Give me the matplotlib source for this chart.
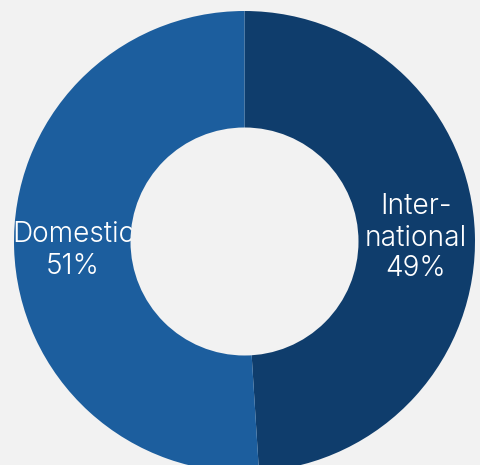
import matplotlib
matplotlib.use("Agg")
import matplotlib.pyplot as plt
from matplotlib.patches import Circle

categories = ["International", "Domestic"]
values = [49, 51]
label_lines = [["Inter-", "national", "49%"], ["Domestic", "51%"]]
colors = ["#0f3d6c", "#1c5e9e"]
bg = "#f2f2f2"

W, H = 481, 465
fig = plt.figure(figsize=(W / 100, H / 100), dpi=100, facecolor=bg)
ax = fig.add_axes([0, 0, 1, 1])
ax.set_facecolor(bg)

cx, cy = 244.5, H - 241.5
R_out, R_in = 230.5, 114

wedges, _ = ax.pie(values, colors=colors, startangle=90, counterclock=False,
                   radius=R_out, center=(cx, cy), frame=True,
                   wedgeprops=dict(linewidth=0))
ax.set_xlim(0, W)
ax.set_ylim(0, H)
ax.set_aspect("equal")
ax.axis("off")

font = dict(family=["Inter", "DejaVu Sans"], weight=300, color="white", fontsize=20.2)
for text, y in zip(label_lines[0], [206, 238, 269]):
    ax.text(416, H - y, text, ha="center", va="center", zorder=3, **font)
for text, y in zip(label_lines[1], [234, 266]):
    ax.text(73, H - y, text, ha="center", va="center", zorder=3, **font)

ax.add_patch(Circle((cx, cy), R_in, facecolor=bg, edgecolor="none", zorder=5))

fig.savefig("out.png", dpi=100, facecolor=bg)
